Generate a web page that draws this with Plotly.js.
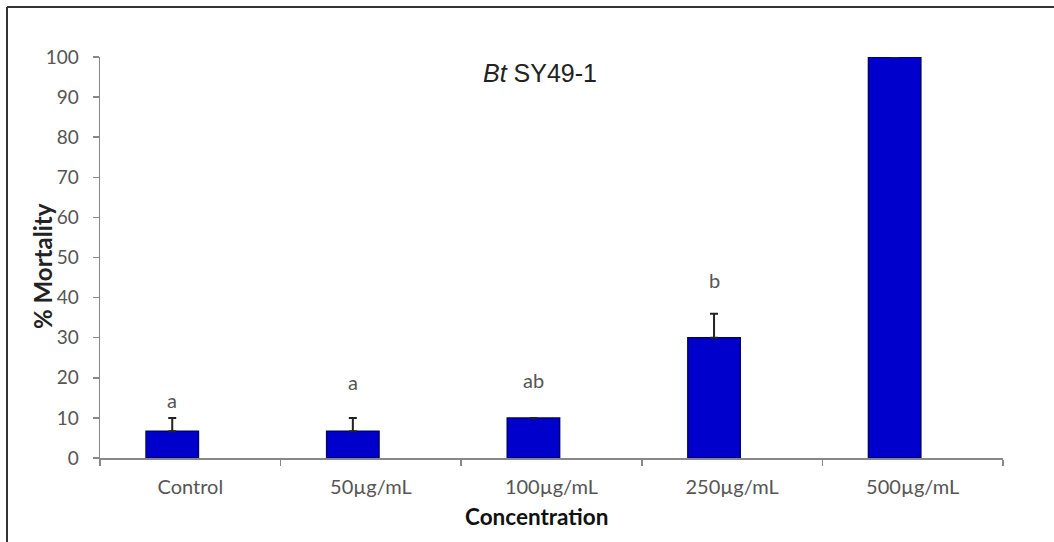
<!DOCTYPE html>
<html>
<head>
<meta charset="utf-8">
<script src="https://cdn.plot.ly/plotly-3.0.1.min.js"></script>
<style>
html,body{margin:0;padding:0;background:#fff;}
#chart{width:1054px;height:542px;}
</style>
</head>
<body>
<div id="chart"></div>
<script>
// Data
const categories = ["Control", "50µg/mL", "100µg/mL", "250µg/mL", "500µg/mL"];
const mortality = [6.67, 6.67, 10, 30, 100];
const errPlus = [3.33, 3.33, null, 6, null];
const letters = ["a", "a", "ab", "b", "c"];
const letterY = [14.5, 19, 19.5, 44.4, 104.7];
const yTicks = [0, 10, 20, 30, 40, 50, 60, 70, 80, 90, 100];

const barOffset = -0.245, barWidth = 0.29;
const FONT = "Lato, 'Open Sans', sans-serif";

const trace = {
  type: "bar",
  x: categories,
  y: mortality,
  width: barWidth,
  offset: barOffset,
  marker: {color: "#0000CC", line: {color: "#000070", width: 1.5}},
  error_y: {type: "data", symmetric: false, array: errPlus, arrayminus: errPlus.map(v => v === null ? null : 0),
            color: "#222", thickness: 2, width: 4},
  hoverinfo: "none"
};

const annotations = letters.map((t, i) => ({
  x: i + barOffset + barWidth / 2, y: letterY[i], xref: "x", yref: "y",
  text: t, showarrow: false, font: {family: FONT, size: 20, color: "#555"}
}));
annotations.push({
  xref: "paper", yref: "paper", x: 0.487, y: 0.960, xanchor: "center", yanchor: "middle",
  text: "<i>Bt</i> SY49-1", showarrow: false,
  font: {family: "'Liberation Sans', Arial, sans-serif", size: 25, color: "#222"}
});
annotations.push({
  xref: "paper", yref: "paper", x: -0.0631, y: 0.479, xanchor: "center", yanchor: "middle",
  text: "<b>% Mortality</b>", textangle: -90, showarrow: false,
  font: {family: FONT, size: 24, color: "#222"}
});
annotations.push({
  xref: "paper", yref: "paper", x: 0.483, y: -0.147, xanchor: "center", yanchor: "middle",
  text: "<b>Concentration</b>", showarrow: false,
  font: {family: FONT, size: 22.5, color: "#111"}
});

const layout = {
  width: 1054, height: 542,
  margin: {l: 100, r: 51, t: 57, b: 84},
  paper_bgcolor: "#fff", plot_bgcolor: "#fff",
  showlegend: false,
  bargap: 0,
  xaxis: {
    type: "category", range: [-0.5, 4.5],
    tickson: "boundaries", ticks: "outside", ticklen: 6, tickcolor: "#888", tickwidth: 1.5,
    showline: true, linecolor: "#888", linewidth: 1.5, showgrid: false, zeroline: false,
    tickfont: {family: FONT, size: 20, color: "#555"},
    ticklabelstandoff: 10
  },
  yaxis: {
    range: [0, 100], tickvals: yTicks, ticks: "outside", ticklen: 6, tickcolor: "#888", tickwidth: 1.5,
    showline: true, linecolor: "#888", linewidth: 1.5, showgrid: false, zeroline: false,
    tickfont: {family: FONT, size: 19, color: "#555"},
    ticklabelstandoff: 10
  },
  annotations: annotations,
  shapes: [
    {type: "line", xref: "paper", yref: "paper", x0: -93/903, x1: 1.2, y0: 1 + 50/401, y1: 1 + 50/401,
     line: {color: "#333", width: 2}},
    {type: "line", xref: "paper", yref: "paper", x0: -93/903, x1: -93/903, y0: 1 + 50/401, y1: -0.3,
     line: {color: "#333", width: 2}}
  ]
};

Plotly.newPlot("chart", [trace], layout, {displayModeBar: false, staticPlot: true});
</script>
</body>
</html>
